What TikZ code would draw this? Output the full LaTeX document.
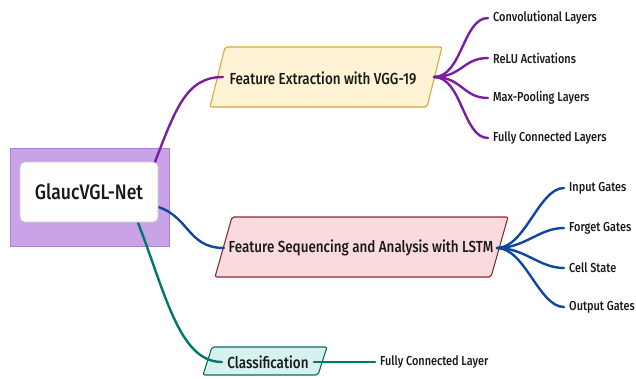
\documentclass[tikz,border=0pt]{standalone}
\usepackage{fontspec}
\setmainfont{Fira Sans}[FakeStretch=0.84,BoldFont=* Medium]
\usetikzlibrary{calc}
\definecolor{outerfill}{RGB}{201,162,232}
\definecolor{outerdraw}{RGB}{170,128,210}
\definecolor{purp}{RGB}{123,31,162}
\definecolor{bluel}{RGB}{13,71,161}
\definecolor{greenl}{RGB}{0,121,107}
\definecolor{vggfill}{RGB}{255,243,214}
\definecolor{vggdraw}{RGB}{214,168,58}
\definecolor{lstmfill}{RGB}{249,218,221}
\definecolor{lstmdraw}{RGB}{142,42,54}
\definecolor{clsfill}{RGB}{214,242,238}
\definecolor{clsdraw}{RGB}{14,107,92}
\definecolor{txt}{RGB}{25,25,25}
\tikzset{
  conn/.style={line width=2.4pt, line cap=round},
  mainlabel/.style={font=\bfseries\fontsize{16}{18}\selectfont, text=txt, inner sep=0pt},
  leaf/.style={font=\bfseries\fontsize{13}{15}\selectfont, text=txt, anchor=west, inner sep=0pt},
  para/.style={line width=1.1pt, rounded corners=2pt},
}
\begin{document}
\begin{tikzpicture}[x=1pt,y=-1pt]
\useasboundingbox (0,0) rectangle (636,378);
% outer box
\draw[fill=outerfill, draw=outerdraw, line width=0.8pt] (10,148) rectangle (169,246);
% parallelograms
\draw[para, fill=vggfill, draw=vggdraw] (210,107) -- (225,47) -- (442,47) -- (427,107) -- cycle;
\draw[para, fill=lstmfill, draw=lstmdraw] (215,277) -- (232,217) -- (508,217) -- (491,277) -- cycle;
\draw[para, fill=clsfill, draw=clsdraw] (203,375) -- (212,347) -- (327,347) -- (318,375) -- cycle;
% labels
\node[mainlabel] (vgg) at (323,78) {Feature Extraction with VGG-19};
\node[mainlabel] (lstm) at (361,248) {Feature Sequencing and Analysis with LSTM};
\node[mainlabel] (cls) at (268,362) {Classification};
% anchor coordinates
\coordinate (rootA) at (150,175);
\coordinate (rootB) at (150,205);
\coordinate (rootC) at (135,215);
\coordinate (vggL) at (223,77);
\coordinate (vggR) at (434,77);
\coordinate (lstmL) at (224,248);
\coordinate (lstmR) at (497,248);
\coordinate (clsL) at (222,362);
\coordinate (clsR) at (314,362);
% root connectors
\draw[conn, purp] (rootA) .. controls (175,110) and (185,77) .. (vggL);
\draw[conn, bluel] (rootB) .. controls (190,212) and (185,248) .. (lstmL);
\draw[conn, greenl] (rootC) .. controls (165,290) and (178,362) .. (clsL);
% inner root box
\node[draw=white!80!black, fill=white, rounded corners=5pt, line width=0.6pt,
      minimum width=138pt, minimum height=60pt, inner sep=0pt,
      font=\bfseries\fontsize{21}{24}\selectfont, text=txt] (root) at (89,192) {GlaucVGL-Net};
% VGG leaves
\node[leaf] (c1) at (493,18) {Convolutional Layers};
\node[leaf] (c2) at (493,58) {ReLU Activations};
\node[leaf] (c3) at (493,98) {Max-Pooling Layers};
\node[leaf] (c4) at (493,138) {Fully Connected Layers};
\foreach \n in {c1,c2,c3,c4}
  \draw[conn, purp] (vggR) .. controls ($(vggR)+(28,0)$) and ($(\n.west)+(-30,0)$) .. ($(\n.west)+(-5,0)$);
% LSTM leaves
\node[leaf] (l1) at (569,188) {Input Gates};
\node[leaf] (l2) at (569,228) {Forget Gates};
\node[leaf] (l3) at (569,268) {Cell State};
\node[leaf] (l4) at (569,307) {Output Gates};
\foreach \n in {l1,l2,l3,l4}
  \draw[conn, bluel] (lstmR) .. controls ($(lstmR)+(28,0)$) and ($(\n.west)+(-30,0)$) .. ($(\n.west)+(-5,0)$);
% classification leaf
\node[leaf] (f1) at (380,362) {Fully Connected Layer};
\draw[conn, greenl] (clsR) -- ($(f1.west)+(-5,0)$);
\end{tikzpicture}
\end{document}
